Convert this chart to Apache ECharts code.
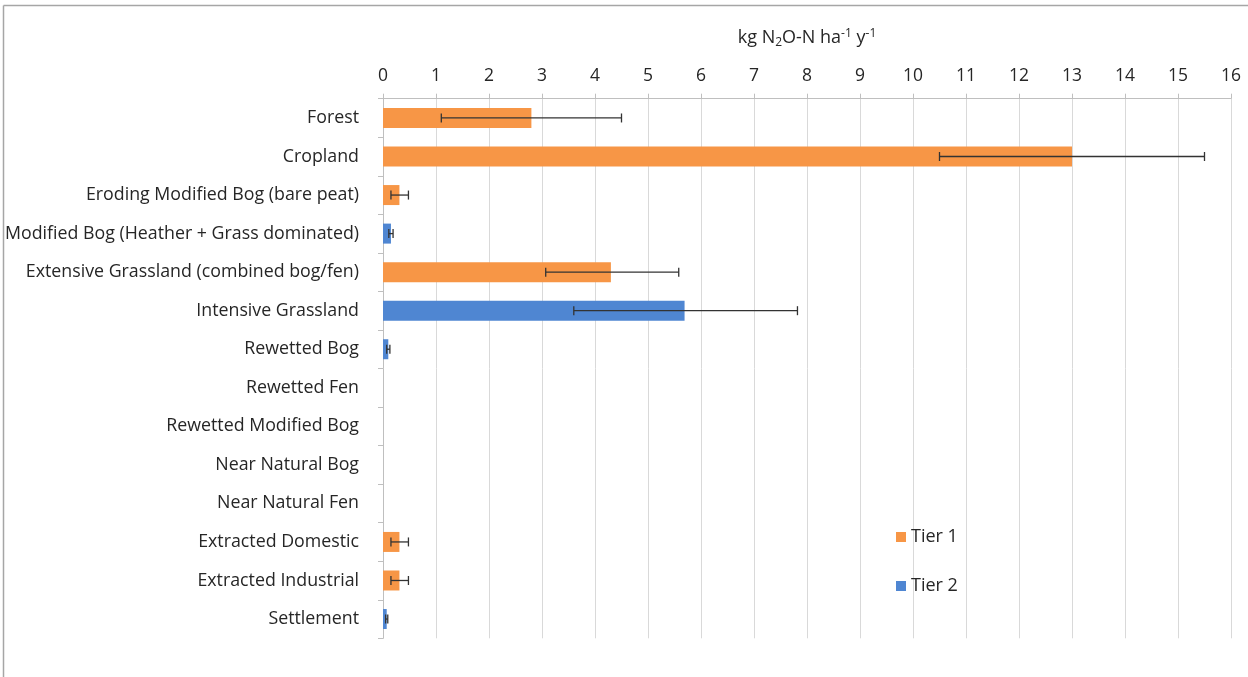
<!DOCTYPE html>
<html><head><meta charset="utf-8">
<script src="https://cdn.jsdelivr.net/npm/echarts@6/dist/echarts.min.js"></script>
<style>html,body{margin:0;padding:0;background:#fff}#c{width:1248px;height:677px}</style>
</head><body><div id="c"></div>
<script>
const categories = ['Forest','Cropland','Eroding Modified Bog (bare peat)','Modified Bog (Heather + Grass dominated)','Extensive Grassland (combined bog/fen)','Intensive Grassland','Rewetted Bog','Rewetted Fen','Rewetted Modified Bog','Near Natural Bog','Near Natural Fen','Extracted Domestic','Extracted Industrial','Settlement'];
const tier1 = [2.8, 13, 0.31, null, 4.3, null, null, 0, 0, 0, 0, 0.31, 0.31, null];
const tier2 = [null, null, null, 0.15, null, 5.69, 0.1, null, null, null, null, null, null, 0.07];
const errLow  = [1.1, 10.5, 0.15, 0.11, 3.07, 3.6, 0.07, null, null, null, null, 0.15, 0.15, 0.05];
const errHigh = [4.5, 15.5, 0.48, 0.19, 5.58, 7.82, 0.13, null, null, null, null, 0.48, 0.48, 0.09];

const FONT = 'Open Sans';
const TXT = '#262626';
const errData = categories.map((c, i) => errLow[i] == null ? null : [i, errLow[i], errHigh[i]]).filter(d => d);

const chart = echarts.init(document.getElementById('c'), null, {renderer: 'canvas'});
chart.setOption({
  animation: false,
  backgroundColor: '#fff',
  textStyle: {fontFamily: FONT},
  grid: {left: 383, right: 17, top: 98.7, bottom: 38.7, containLabel: false},
  xAxis: {
    type: 'value', position: 'top', min: 0, max: 16, interval: 1,
    name: 'kg N{sub|2}O-N ha{sup|-1} y{sup|-1}', nameLocation: 'middle', nameGap: 50,
    nameTextStyle: {fontFamily: FONT, fontSize: 18, color: TXT,
      rich: {sub: {fontSize: 12, verticalAlign: 'bottom', padding: [9, 0, 0, 0], fontFamily: FONT, color: TXT},
             sup: {fontSize: 12, verticalAlign: 'top', padding: [0, 0, 6, 0], fontFamily: FONT, color: TXT}}},
    axisLine: {show: true, lineStyle: {color: '#bfbfbf', width: 1}},
    axisTick: {show: true, inside: false, length: 5, lineStyle: {color: '#bfbfbf'}},
    axisLabel: {fontSize: 17.5, color: TXT, margin: 14, fontFamily: FONT},
    splitLine: {show: true, lineStyle: {color: '#d9d9d9', width: 1}}
  },
  yAxis: {
    type: 'category', data: categories, inverse: true,
    axisLine: {show: true, lineStyle: {color: '#bfbfbf'}},
    axisTick: {show: true, length: 5, lineStyle: {color: '#bfbfbf'}},
    axisLabel: {fontSize: 17.8, color: TXT, margin: 24, fontFamily: FONT, padding: [3, 0, 0, 0]},
    splitLine: {show: false}
  },
  legend: {
    orient: 'vertical', left: 891, top: 523, itemWidth: 10, itemHeight: 10, itemGap: 31,
    icon: 'rect', data: ['Tier 1', 'Tier 2'],
    textStyle: {fontSize: 18, color: TXT, fontFamily: FONT}
  },
  series: [
    {name: 'Tier 1', type: 'bar', stack: 'all', data: tier1, barWidth: 20, itemStyle: {color: '#F79646'}},
    {name: 'Tier 2', type: 'bar', stack: 'all', data: tier2, barWidth: 20, itemStyle: {color: '#4F86D2'}},
    {name: 'err', type: 'custom', data: errData, encode: {x: [1, 2], y: 0}, z: 10,
      renderItem: function (params, api) {
        const y = api.value(0), lo = api.value(1), hi = api.value(2);
        const p1 = api.coord([lo, y]), p2 = api.coord([hi, y]);
        const h = 4.5;
        const st = {stroke: '#333', lineWidth: 1.3};
        return {type: 'group', children: [
          {type: 'line', shape: {x1: p1[0], y1: p1[1], x2: p2[0], y2: p2[1]}, style: st},
          {type: 'line', shape: {x1: p1[0], y1: p1[1] - h, x2: p1[0], y2: p1[1] + h}, style: st},
          {type: 'line', shape: {x1: p2[0], y1: p2[1] - h, x2: p2[0], y2: p2[1] + h}, style: st}
        ]};
      }
    }
  ],
  graphic: [
    {type: 'line', shape: {x1: 3.5, y1: 5.5, x2: 1248, y2: 5.5}, style: {stroke: '#a6a6a6', lineWidth: 1.5}},
    {type: 'line', shape: {x1: 3.5, y1: 5.5, x2: 3.5, y2: 677}, style: {stroke: '#a6a6a6', lineWidth: 1.5}}
  ]
});
</script></body></html>
